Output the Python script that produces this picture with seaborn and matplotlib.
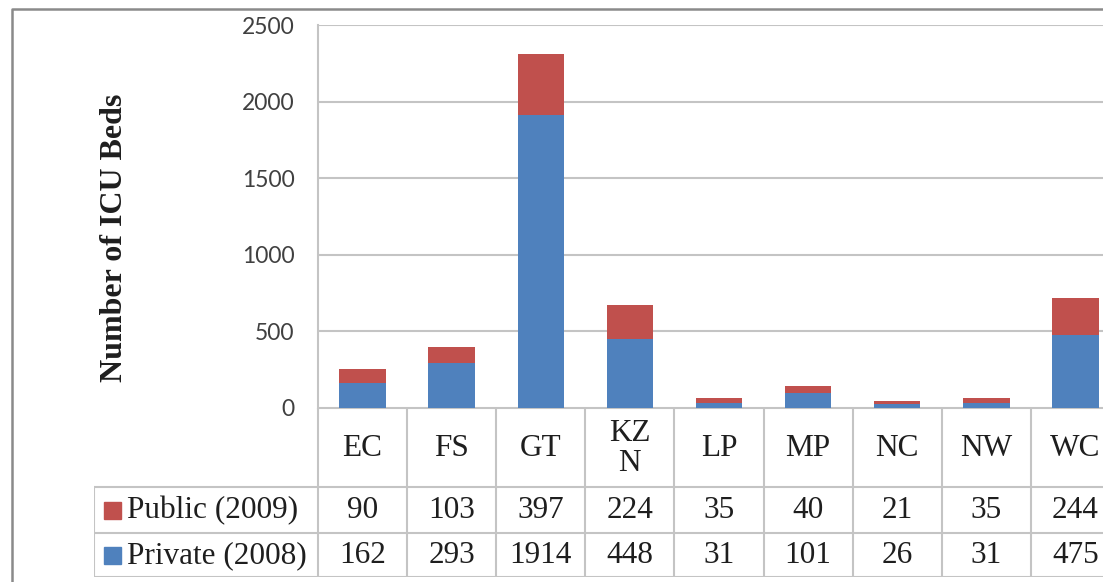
import matplotlib
matplotlib.use("Agg")
import matplotlib.pyplot as plt
from matplotlib.lines import Line2D
import seaborn as sns
import pandas as pd

# ICU beds per province
regions = ["EC", "FS", "GT", "KZN", "LP", "MP", "NC", "NW", "WC"]
region_labels = ["EC", "FS", "GT", "KZ\nN", "LP", "MP", "NC", "NW", "WC"]
public_2009 = [90, 103, 397, 224, 35, 40, 21, 35, 244]
private_2008 = [162, 293, 1914, 448, 31, 101, 26, 31, 475]
series_names = ["Public (2009)", "Private (2008)"]
y_ticks = [0, 500, 1000, 1500, 2000, 2500]

RED = "#C0504D"
BLUE = "#4F81BD"
GRID = "#C4C4C4"
TEXT = "#1E1E1E"

sns.set_theme(style="white")
plt.rcParams["font.family"] = ["Liberation Serif", "DejaVu Serif"]

W, H = 1103, 582
fig = plt.figure(figsize=(W / 100, H / 100), dpi=100)
fig.patch.set_facecolor("white")


def fx(px):
    return px / W


def fy(py):
    return 1 - py / H


# plot region (extends past the right edge of the figure)
x0, x1 = 318, 1120
y_top, y_zero = 25, 408
ax = fig.add_axes([fx(x0), fy(y_zero), fx(x1 - x0), fy(y_top) - fy(y_zero)])

df = pd.DataFrame({
    "region": regions,
    "public": public_2009,
    "private": private_2008,
})
df["total"] = df["public"] + df["private"]

bar_w = 0.52
sns.barplot(data=df, x="region", y="total", color=RED, width=bar_w,
            saturation=1, ax=ax, linewidth=0, zorder=3)
sns.barplot(data=df, x="region", y="private", color=BLUE, width=bar_w,
            saturation=1, ax=ax, linewidth=0, zorder=3)

ax.set_xlim(-0.5, len(regions) - 0.5)
ax.set_ylim(0, 2500)
ax.set_yticks(y_ticks)
ax.set_yticklabels([str(t) for t in y_ticks], fontfamily="Lato",
                   fontsize=16.5, color="#404040")
ax.tick_params(axis="y", length=0, pad=17)
ax.set_xticks([])
ax.set_xlabel("")
ax.set_ylabel("")
ax.yaxis.grid(True, color=GRID, linewidth=1.5, zorder=0)
for side in ["top", "right", "bottom"]:
    ax.spines[side].set_visible(False)
ax.spines["left"].set_color(GRID)
ax.spines["left"].set_linewidth(1.5)

fig.text(fx(115), fy(238), "Number of ICU Beds", rotation=90, ha="center",
         va="center", fontsize=23, fontweight="bold", color=TEXT)

# data table under the plot, sharing the category positions
tab_left = 94
col_w = (x1 - x0) / len(regions)
left_data = -0.5 - (x0 - tab_left) / col_w
tab = fig.add_axes([fx(tab_left), fy(577), fx(x1 - tab_left), fy(408) - fy(577)])
tab.set_xlim(left_data, len(regions) - 0.5)
tab.set_ylim(169, 0)
tab.axis("off")

rows_y = [0, 79, 124.5, 169]
lw = 1.5
# horizontal rules
tab.plot([-0.5, len(regions) - 0.5], [rows_y[0]] * 2, color=GRID, lw=lw)
for yy in rows_y[1:]:
    tab.plot([left_data, len(regions) - 0.5], [yy, yy], color=GRID, lw=lw)
# vertical rules
tab.plot([left_data, left_data], [rows_y[1], rows_y[3]], color=GRID, lw=lw)
for i in range(len(regions) + 1):
    xx = i - 0.5
    tab.plot([xx, xx], [rows_y[0], rows_y[3]], color=GRID, lw=lw)

for i, lab in enumerate(region_labels):
    tab.text(i, (rows_y[0] + rows_y[1]) / 2 + 1, lab, ha="center", va="center",
             fontsize=22.5, color=TEXT, linespacing=1.05)

for r, (name, vals, col) in enumerate(zip(series_names,
                                           [public_2009, private_2008],
                                           [RED, BLUE])):
    yc = (rows_y[r + 1] + rows_y[r + 2]) / 2 + 1
    for i, v in enumerate(vals):
        tab.text(i, yc, str(v), ha="center", va="center", fontsize=22.5,
                 color=TEXT)
    # legend key and series name
    fig.patches.append(plt.Rectangle((fx(104), fy(yc + 408 + 8.5)),
                                     fx(17), fy(0) - fy(17), color=col,
                                     transform=fig.transFigure))
    fig.text(fx(127), fy(408 + yc), name, ha="left", va="center",
             fontsize=22.5, color=TEXT)

# chart-area frame
frame_c = "#8A8A8A"
fig.add_artist(Line2D([fx(12), fx(12), fx(W)], [0, fy(9), fy(9)],
                      transform=fig.transFigure, color=frame_c, lw=1.8))

fig.savefig("out.png", dpi=100, facecolor="white")
